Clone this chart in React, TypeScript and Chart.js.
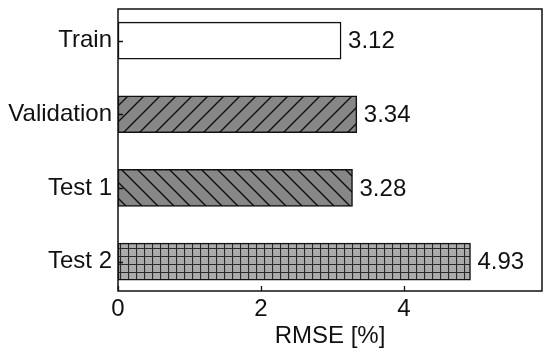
import React, { useEffect, useRef } from "react";
import { Chart, registerables } from "chart.js";

Chart.register(...registerables);

const categories = ["Train", "Validation", "Test 1", "Test 2"];
const rmseValues = [3.12, 3.34, 3.28, 4.93];
const valueLabels = ["3.12", "3.34", "3.28", "4.93"];
const xTickValues = [0, 2, 4];
const xMax = 5.93;
const axisTitle = "RMSE [%]";

const FONT = "'Liberation Sans', Arial, sans-serif";
const INK = "#111111";
const FS = 24;

function makePattern(kind: string, bg: string, fg: string): CanvasPattern | string {
  const size = kind === "grid" ? 8 : 16;
  const c = document.createElement("canvas");
  c.width = size;
  c.height = size;
  const ctx = c.getContext("2d");
  if (!ctx) return bg;
  ctx.fillStyle = bg;
  ctx.fillRect(0, 0, size, size);
  ctx.strokeStyle = fg;
  ctx.lineWidth = kind === "grid" ? 1.2 : 1.4;
  ctx.beginPath();
  if (kind === "grid") {
    ctx.moveTo(0.5, 0);
    ctx.lineTo(0.5, size);
    ctx.moveTo(0, 0.5);
    ctx.lineTo(size, 0.5);
  } else if (kind === "fwd") {
    ctx.moveTo(-2, size + 2);
    ctx.lineTo(size + 2, -2);
    ctx.moveTo(-2, 2);
    ctx.lineTo(2, -2);
    ctx.moveTo(size - 2, size + 2);
    ctx.lineTo(size + 2, size - 2);
  } else if (kind === "back") {
    ctx.moveTo(-2, -2);
    ctx.lineTo(size + 2, size + 2);
    ctx.moveTo(size - 2, -2);
    ctx.lineTo(size + 2, 2);
    ctx.moveTo(-2, size - 2);
    ctx.lineTo(2, size + 2);
  }
  ctx.stroke();
  const p = ctx.createPattern(c, "repeat");
  return p || bg;
}

const decorPlugin = {
  id: "decor",
  afterDatasetsDraw(chart: any) {
    const { ctx, chartArea } = chart;
    const xs = chart.scales.x;
    const ys = chart.scales.y;
    ctx.save();
    const meta = chart.getDatasetMeta(0);
    ctx.fillStyle = INK;
    ctx.font = `${FS}px ${FONT}`;
    ctx.textAlign = "left";
    ctx.textBaseline = "middle";
    meta.data.forEach((bar: any, i: number) => {
      ctx.fillText(valueLabels[i], bar.x + 7, bar.y + 1);
    });
    ctx.strokeStyle = INK;
    ctx.lineWidth = 1.5;
    ctx.strokeRect(chartArea.left, chartArea.top, chartArea.right - chartArea.left, chartArea.bottom - chartArea.top);
    ctx.lineWidth = 1.3;
    ctx.beginPath();
    xTickValues.forEach((v) => {
      const px = Math.round(xs.getPixelForValue(v)) + 0.5;
      ctx.moveTo(px, chartArea.bottom);
      ctx.lineTo(px, chartArea.bottom - 5);
    });
    categories.forEach((_, i) => {
      const py = Math.round(ys.getPixelForValue(i)) + 0.5;
      ctx.moveTo(chartArea.left, py);
      ctx.lineTo(chartArea.left + 5, py);
    });
    ctx.stroke();
    ctx.restore();
  },
};

export default function App() {
  const canvasRef = useRef<HTMLCanvasElement | null>(null);

  useEffect(() => {
    document.body.style.margin = "0";
    const canvas = canvasRef.current;
    if (!canvas) return;
    const fills = [
      "#ffffff",
      makePattern("fwd", "#878787", "#111111"),
      makePattern("back", "#878787", "#111111"),
      makePattern("grid", "#ababab", "#2a2a2a"),
    ];
    const chart = new Chart(canvas, {
      type: "bar",
      data: {
        datasets: [
          {
            data: rmseValues.map((v, i) => ({ x: v, y: i })),
            backgroundColor: fills as any,
            borderColor: INK,
            borderWidth: 1.5,
            borderSkipped: false,
            barThickness: 37,
          },
        ],
      },
      options: {
        indexAxis: "y",
        animation: false,
        responsive: false,
        maintainAspectRatio: false,
        devicePixelRatio: 1,
        layout: { padding: { top: 9, right: 8, left: 0, bottom: 0 } },
        plugins: {
          legend: { display: false },
          tooltip: { enabled: false },
        },
        scales: {
          x: {
            type: "linear",
            min: 0,
            max: xMax,
            offset: false,
            grid: { display: false, drawTicks: false },
            border: { display: false },
            afterBuildTicks: (scale: any) => {
              scale.ticks = xTickValues.map((v) => ({ value: v }));
            },
            afterFit: (scale: any) => {
              scale.height = 66;
              scale.paddingLeft = 0;
              scale.paddingRight = 0;
            },
            ticks: {
              color: INK,
              font: { family: FONT, size: FS },
              padding: 4,
              maxRotation: 0,
              callback: (v: any) => String(v),
            },
            title: {
              display: true,
              text: axisTitle,
              color: INK,
              font: { family: FONT, size: FS },
              padding: { top: 0, bottom: 6 },
            },
          },
          y: {
            type: "linear",
            reverse: true,
            min: -0.43,
            max: 3.4,
            offset: false,
            grid: { display: false, drawTicks: false },
            border: { display: false },
            afterBuildTicks: (scale: any) => {
              scale.ticks = categories.map((_, i) => ({ value: i }));
            },
            afterFit: (scale: any) => {
              scale.width = 118;
              scale.paddingTop = 0;
              scale.paddingBottom = 0;
            },
            ticks: {
              color: INK,
              font: { family: FONT, size: FS },
              padding: 6,
              callback: (v: any) => categories[v] ?? "",
            },
          },
        },
      },
      plugins: [decorPlugin],
    } as any);
    return () => chart.destroy();
  }, []);

  return (
    <div style={{ width: 550, height: 357, background: "#fff" }}>
      <canvas ref={canvasRef} width={550} height={357} style={{ display: "block" }} />
    </div>
  );
}
